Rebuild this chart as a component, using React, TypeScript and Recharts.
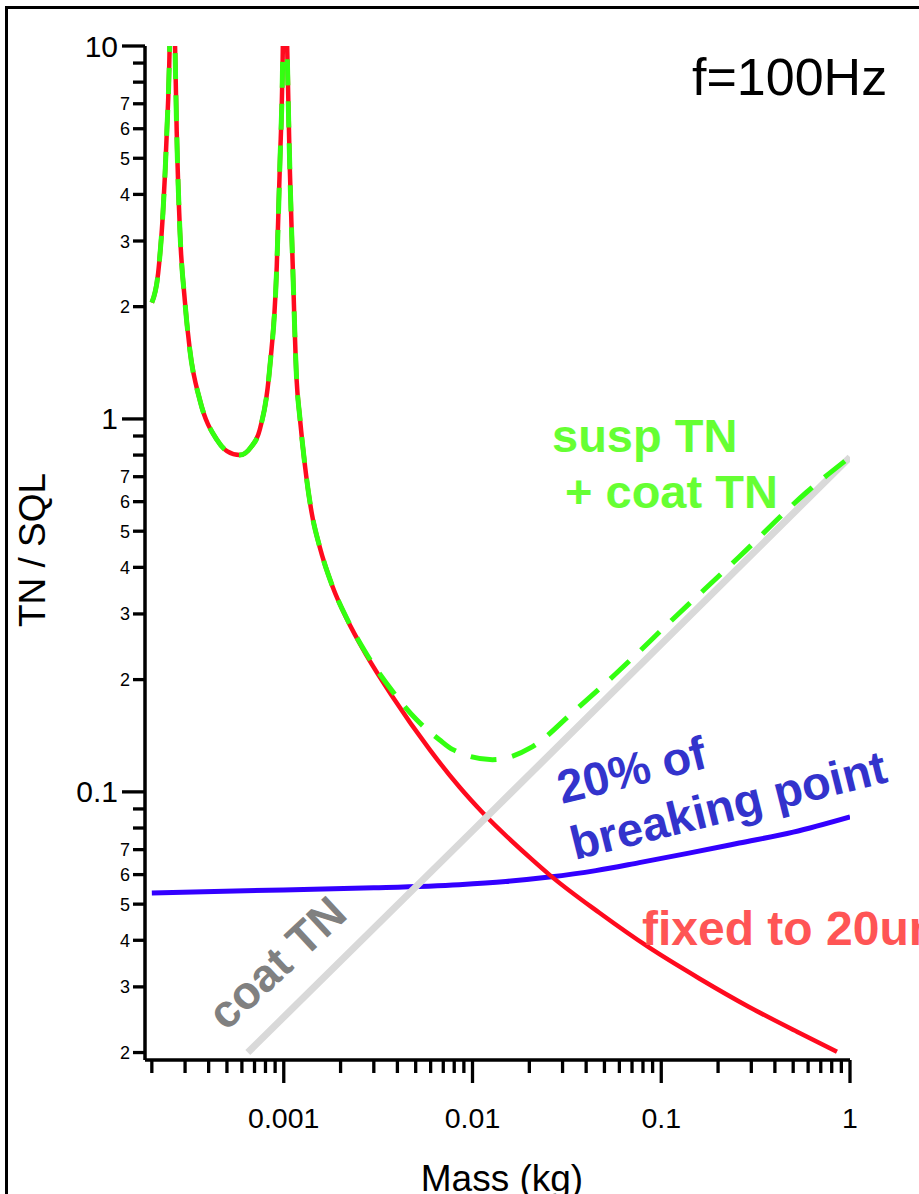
import React from 'react'
import { LineChart, Line, XAxis, YAxis } from 'recharts'

// mass (kg) and TN/SQL readings, one pair of arrays per curve
const fixedMass = [
  0.0002, 0.000216, 0.000229, 0.00024, 0.000249, 0.000257, 0.000265, 0.000271, 0.000282, 0.000299,
  0.000318, 0.00036, 0.000442, 0.0005, 0.000585, 0.00067, 0.000746, 0.000844, 0.000918, 0.000953,
  0.00099, 0.001, 0.00104, 0.001076, 0.001116, 0.00117, 0.001216, 0.00129, 0.001406, 0.00155,
  0.001815, 0.00215, 0.00275, 0.00377, 0.00592, 0.00853, 0.0113, 0.0207, 0.0255, 0.047,
  0.0865, 0.159, 0.292, 0.537, 0.853,
]
const fixedTN = [
  2.05, 2.46, 3.57, 5.85, 10.5, 40, 10.5, 5.85, 3.16, 2.08,
  1.53, 1.12, 0.88, 0.82, 0.8, 0.84, 0.935, 1.38, 2.56, 4.74,
  10.5, 40, 10.5, 4.74, 2.56, 1.27, 1.012, 0.762, 0.56, 0.454,
  0.355, 0.292, 0.232, 0.18, 0.13, 0.103, 0.088, 0.0658, 0.06, 0.0474,
  0.0382, 0.0316, 0.0265, 0.0226, 0.0201,
]

const totalMass = [
  0.0002, 0.000216, 0.000229, 0.00024, 0.000249, 0.000257, 0.000265, 0.000271, 0.000282, 0.000299,
  0.000318, 0.00036, 0.000442, 0.0005, 0.000585, 0.00067, 0.000746, 0.000844, 0.000918, 0.000953,
  0.00099, 0.001, 0.00104, 0.001076, 0.001116, 0.00117, 0.001216, 0.00129, 0.001406, 0.00155,
  0.001815, 0.00215, 0.00275, 0.00377, 0.00506, 0.00668, 0.00783, 0.01276, 0.0207, 0.0338,
  0.0578, 0.114, 0.259, 0.585, 1,
]
const totalTN = [
  2.05, 2.46, 3.57, 5.85, 10.5, 40, 10.5, 5.85, 3.16, 2.08,
  1.53, 1.12, 0.88, 0.82, 0.8, 0.84, 0.935, 1.38, 2.56, 4.74,
  10.5, 40, 10.5, 4.74, 2.56, 1.27, 1.012, 0.762, 0.56, 0.454,
  0.355, 0.293, 0.234, 0.186, 0.156, 0.138, 0.13, 0.122, 0.132, 0.163,
  0.208, 0.289, 0.427, 0.634, 0.79,
]

const coatMass = [0.000645, 0.001, 0.01, 0.1, 1]
const coatTN = [0.02, 0.0249, 0.0786, 0.249, 0.79]

const breakMass = [0.0002, 0.001, 0.003, 0.0085, 0.015, 0.0255, 0.045, 0.0765, 0.14, 0.259, 0.5, 1]
const breakTN = [0.0536, 0.0546, 0.0553, 0.0564, 0.0575, 0.0591, 0.0615, 0.0646, 0.0685, 0.0729, 0.078, 0.0857]

const xTicks = [
  0.0002, 0.0003, 0.0004, 0.0005, 0.0006, 0.0007, 0.0008, 0.0009,
  0.001, 0.002, 0.003, 0.004, 0.005, 0.006, 0.007, 0.008, 0.009,
  0.01, 0.02, 0.03, 0.04, 0.05, 0.06, 0.07, 0.08, 0.09,
  0.1, 0.2, 0.3, 0.4, 0.5, 0.6, 0.7, 0.8, 0.9, 1,
]
const xTickLabels = [
  '', '', '', '', '', '', '', '',
  '0.001', '', '', '', '', '', '', '', '',
  '0.01', '', '', '', '', '', '', '', '',
  '0.1', '', '', '', '', '', '', '', '', '1',
]

const yTicks = [
  0.02, 0.03, 0.04, 0.05, 0.06, 0.07, 0.08, 0.09,
  0.1, 0.2, 0.3, 0.4, 0.5, 0.6, 0.7, 0.8, 0.9,
  1, 2, 3, 4, 5, 6, 7, 8, 9, 10,
]
const yTickLabels = [
  '2', '3', '4', '5', '6', '7', '', '',
  '0.1', '2', '3', '4', '5', '6', '7', '', '',
  '1', '2', '3', '4', '5', '6', '7', '', '', '10',
]
const yMajor = ['0.1', '1', '10']

const toPoints = (mass: number[], tn: number[]) => mass.map((m, i) => ({ m, v: tn[i] }))

const fixedData = toPoints(fixedMass, fixedTN)
const totalData = toPoints(totalMass, totalTN)
const coatData = toPoints(coatMass, coatTN)
const breakData = toPoints(breakMass, breakTN)

const FONT = '"Liberation Sans", Arial, Helvetica, sans-serif'

const YTick = (props: any) => {
  const { x, y, payload } = props
  const i = yTicks.indexOf(payload.value)
  const label = i >= 0 ? yTickLabels[i] : ''
  const major = yMajor.includes(label)
  const len = major ? 23 : 12
  return (
    <g>
      <line x1={x - len} x2={x} y1={y} y2={y} stroke="#000" strokeWidth={3.3} />
      {label && (
        <text
          x={x - len - (major ? 4 : 3)}
          y={y}
          dy={major ? 10.5 : 6.5}
          textAnchor="end"
          fontSize={major ? 30 : 18}
          fontFamily={FONT}
          fill="#000"
        >
          {label}
        </text>
      )}
    </g>
  )
}

const XTick = (props: any) => {
  const { x, y, payload } = props
  const i = xTicks.indexOf(payload.value)
  const label = i >= 0 ? xTickLabels[i] : ''
  const len = label ? 23 : 13
  return (
    <g>
      <line x1={x} x2={x} y1={y} y2={y + len} stroke="#000" strokeWidth={3.3} />
      {label && (
        <text x={x} y={y + 68} textAnchor="middle" fontSize={28.5} fontFamily={FONT} fill="#000">
          {label}
        </text>
      )}
    </g>
  )
}

export default function App() {
  return (
    <div style={{ position: 'absolute', left: 0, top: 0, width: 919, height: 1194, overflow: 'hidden', background: '#fff' }}>
      <div
        style={{
          position: 'absolute',
          left: 5,
          top: 6,
          width: 2000,
          height: 2000,
          borderLeft: '3px solid #000',
          borderTop: '3px solid #000',
        }}
      />
      <div style={{ position: 'absolute', left: 0, top: 0 }}>
        <LineChart width={919} height={1194} margin={{ top: 46, right: 69, left: 0, bottom: 0 }}>
          <XAxis
            dataKey="m"
            type="number"
            scale="log"
            domain={[0.000184, 1]}
            allowDataOverflow
            ticks={xTicks}
            interval={0}
            height={134}
            tickSize={0}
            tickMargin={0}
            tickLine={false}
            tick={<XTick />}
            axisLine={{ stroke: '#000', strokeWidth: 3.5 }}
          />
          <YAxis
            dataKey="v"
            type="number"
            scale="log"
            domain={[0.0191, 10]}
            allowDataOverflow
            ticks={yTicks}
            interval={0}
            width={145}
            tickSize={0}
            tickMargin={0}
            tickLine={false}
            tick={<YTick />}
            axisLine={{ stroke: '#000', strokeWidth: 3.5 }}
          />
          <Line data={breakData} dataKey="v" type="monotone" stroke="#3300ff" strokeWidth={5} dot={false} isAnimationActive={false} />
          <Line data={fixedData} dataKey="v" type="monotone" stroke="#ff0a1e" strokeWidth={4.5} dot={false} isAnimationActive={false} />
          <Line data={coatData} dataKey="v" type="linear" stroke="#d9d9d9" strokeWidth={7} dot={false} isAnimationActive={false} />
          <Line
            data={totalData}
            dataKey="v"
            type="monotone"
            stroke="#33ff11"
            strokeWidth={5}
            strokeDasharray="26 16"
            dot={false}
            isAnimationActive={false}
          />
        </LineChart>
      </div>
      <svg width={919} height={1194} style={{ position: 'absolute', left: 0, top: 0, pointerEvents: 'none' }} fontFamily={FONT}>
        <text x={45} y={550} transform="rotate(-90 45 550)" textAnchor="middle" fontSize={37} fill="#000">
          TN / SQL
        </text>
        <text x={502} y={1191} textAnchor="middle" fontSize={37} fill="#000">
          Mass (kg)
        </text>
        <text x={692} y={95} fontSize={52} fill="#000">
          f=100Hz
        </text>
        <text x={552} y={452} fontSize={47} fontWeight="bold" fill="#66ff33">
          susp TN
        </text>
        <text x={565} y={508} fontSize={47} fontWeight="bold" fill="#66ff33">
          + coat TN
        </text>
        <text x={562} y={804} transform="rotate(-14 562 804)" fontSize={47} fontWeight="bold" fill="#3333cc">
          20% of
        </text>
        <text x={575} y={860} transform="rotate(-14 575 860)" fontSize={47} fontWeight="bold" fill="#3333cc">
          breaking point
        </text>
        <text x={642} y={945} fontSize={48} fontWeight="bold" fill="#ff5555">
          fixed to 20um
        </text>
        <text x={226} y={1032} transform="rotate(-43 226 1032)" fontSize={46} fontWeight="bold" fill="#808080">
          coat TN
        </text>
      </svg>
    </div>
  )
}
